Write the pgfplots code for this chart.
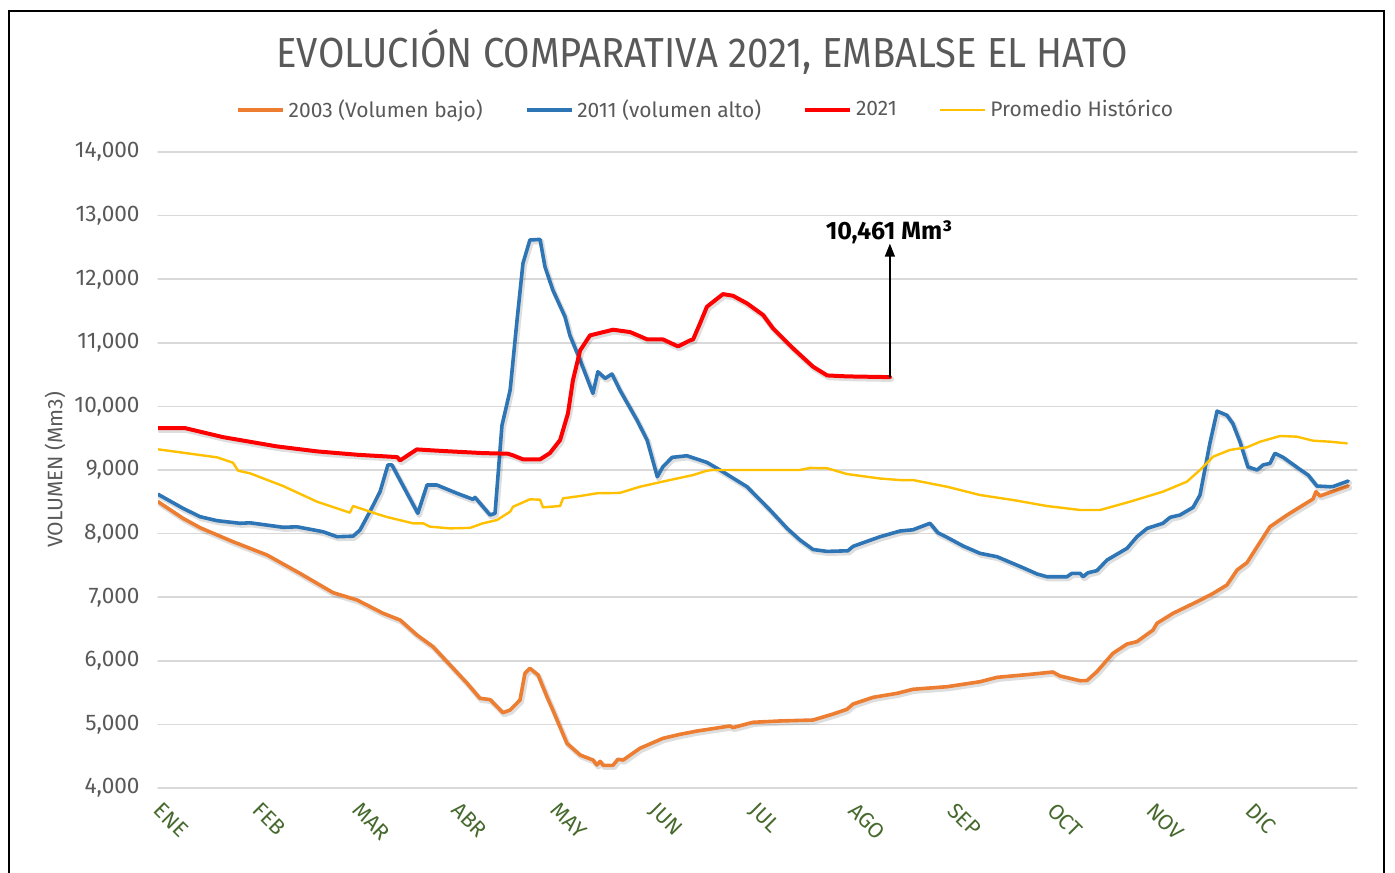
\documentclass[border=0pt]{standalone}
\usepackage{fontspec}
\setmainfont{Fira Sans}
\newfontfamily\titlefont[FakeStretch=0.91]{Fira Sans}
\usepackage{pgfplots}
\pgfplotsset{compat=1.18}
\usepackage{pgfplotstable}
\usetikzlibrary{arrows.meta}

\definecolor{c03}{RGB}{237,125,49}
\definecolor{c11}{RGB}{46,117,182}
\definecolor{c21}{RGB}{255,0,0}
\definecolor{cprom}{RGB}{255,192,0}
\definecolor{txtgray}{RGB}{89,89,89}
\definecolor{gridgray}{RGB}{217,217,217}
\definecolor{mongreen}{RGB}{70,105,45}

% day of year, volume (Mm3)
\pgfplotstableread{
x y
0 8502
7.6 8240
12.8 8093
22.8 7873
33.2 7663
43.2 7375
53.3 7071
60.6 6956
68.5 6747
73.7 6641
78.8 6406
83.7 6222
88.9 5934
94.1 5646
98.0 5410
101.1 5390
105.0 5184
107.2 5226
110.2 5384
111.7 5803
113.2 5882
115.7 5777
118.4 5436
120.2 5226
124.5 4702
128.5 4519
132.4 4440
133.6 4362
134.6 4420
135.5 4357
138.5 4357
140.0 4451
141.6 4440
146.7 4624
153.7 4781
158.9 4844
164.1 4896
174.1 4975
175.0 4950
181.1 5033
189.3 5054
199.4 5069
205.5 5163
209.7 5237
211.6 5321
217.7 5426
225.0 5489
229.8 5552
240.2 5593
250.2 5671
255.4 5740
265.4 5787
272.4 5824
274.6 5761
280.7 5687
282.8 5690
285.8 5829
290.7 6118
295.0 6264
298.0 6301
302.9 6484
304.1 6590
309.0 6747
316.3 6929
321.2 7060
325.4 7192
328.5 7428
331.5 7543
334.6 7794
338.5 8108
343.7 8292
348.6 8449
351.6 8544
352.5 8659
353.7 8591
362.3 8750
}\tblA

\pgfplotstableread{
x y
0 8618
7.6 8398
12.8 8266
18.0 8203
25.0 8162
28.0 8170
38.1 8099
42.3 8107
50.2 8030
54.5 7951
59.4 7960
61.5 8057
64.5 8345
67.6 8660
70.0 9080
71.2 9080
79.1 8319
81.9 8764
84.9 8764
91.0 8634
95.9 8539
96.5 8570
101.1 8292
102.6 8319
104.7 9700
106.5 10100
107.2 10258
109.3 11358
111.1 12250
113.2 12616
116.3 12626
117.8 12196
120.2 11830
123.9 11410
125.4 11116
128.5 10729
132.4 10205
133.9 10545
136.1 10441
138.2 10509
140.6 10258
145.8 9786
148.9 9470
152.0 8894
153.7 9051
156.5 9199
161.0 9224
167.1 9120
171.1 8999
179.3 8737
186.3 8371
191.5 8082
195.4 7900
199.4 7750
203.7 7720
210.0 7730
211.6 7800
219.8 7951
225.9 8041
229.8 8060
235.0 8162
237.4 8014
240.2 7941
245.1 7805
250.2 7690
255.4 7637
263.3 7464
267.6 7365
270.6 7322
276.7 7322
278.2 7375
280.7 7375
281.6 7322
283.1 7385
285.8 7417
288.9 7585
295.0 7769
298.0 7951
301.1 8082
305.9 8162
308.1 8256
311.1 8292
315.1 8413
317.2 8607
320.2 9419
322.4 9926
325.4 9860
327.2 9730
329.4 9440
331.8 9048
334.6 9000
336.4 9080
338.5 9104
340.0 9262
342.5 9199
347.6 9010
350.1 8921
352.8 8748
356.8 8737
357.7 8740
362.3 8827
}\tblB

\pgfplotstableread{
x y
0 9659
8.2 9659
19.8 9517
36.2 9371
48.4 9293
60.6 9240
72.8 9203
73.7 9151
78.8 9324
83.7 9308
88.9 9293
98.9 9266
106.5 9256
108.1 9230
111.1 9167
116.3 9167
119.3 9266
122.4 9470
124.8 9890
126.3 10409
128.5 10880
131.5 11116
138.5 11206
143.7 11169
148.9 11054
153.7 11054
158.3 10943
161.9 11037
162.9 11054
165.0 11305
167.1 11567
172.0 11766
175.0 11740
179.3 11620
184.2 11437
187.2 11227
193.3 10913
199.4 10624
203.7 10487
209.7 10472
221.9 10461
222.8 10461
}\tblC

\pgfplotstableread{
x y
0 9325
7.6 9272
18.0 9199
22.8 9115
24.4 8989
28.0 8948
38.1 8748
48.4 8502
58.4 8329
59.4 8434
66.7 8308
69.7 8261
77.6 8162
80.7 8162
82.8 8109
88.9 8082
95.0 8090
98.9 8162
103.2 8214
107.2 8345
108.1 8423
113.2 8539
116.3 8533
117.2 8413
122.4 8434
123.3 8555
128.5 8591
133.6 8634
140.6 8640
146.7 8737
154.9 8832
162.9 8921
167.1 8989
168.9 9000
189.3 9000
195.4 9000
198.5 9033
203.7 9028
209.7 8937
219.8 8866
225.9 8842
229.8 8842
240.2 8737
250.2 8607
260.3 8528
270.6 8434
280.7 8371
286.8 8371
295.9 8502
305.9 8659
313.2 8816
317.2 9000
321.2 9210
326.3 9315
331.5 9357
335.5 9445
341.6 9535
346.7 9524
351.6 9461
356.8 9445
361.9 9419
}\tblD

\begin{document}
\begin{tikzpicture}
\useasboundingbox (0pt,0pt) rectangle (697.5pt,-436pt);
\draw[line width=1pt, black] (4.5pt,-445pt) -- (4.5pt,-5.5pt) -- (692pt,-5.5pt) -- (692pt,-445pt);
\node[anchor=base, text=txtgray, font=\titlefont\fontsize{21}{25}\selectfont, inner sep=0pt] at (351pt,-34pt) {EVOLUCIÓN COMPARATIVA 2021, EMBALSE EL HATO};
\begin{axis}[
  at={(79pt,-394pt)}, anchor=south west,
  scale only axis, width=599.5pt, height=318pt,
  xmin=0, xmax=365, ymin=4000, ymax=14000,
  ytick={4000,5000,...,14000},
  scaled y ticks=false,
  xtick={5.4,35.6,65.9,96.1,126.3,156.5,186.8,217.0,247.2,277.5,307.7,337.9},
  xticklabels={ENE,FEB,MAR,ABR,MAY,JUN,JUL,AGO,SEP,OCT,NOV,DIC},
  ymajorgrids, grid style={gridgray, line width=0.75pt},
  axis line style={draw=none}, major tick style={draw=none},
  yticklabel style={/pgf/number format/fixed, /pgf/number format/1000 sep={,}, /pgf/number format/assume math mode=true, font=\fontsize{11.3}{13}\selectfont, text=txtgray, anchor=east, inner sep=0pt, xshift=-9pt},
  xticklabel style={font=\fontsize{10.8}{12}\selectfont, text=mongreen, rotate=-45, anchor=north west, inner sep=0pt, yshift=-9pt},
  ylabel={VOLUMEN (Mm3)},
  ylabel style={at={(axis description cs:-0.0859,0.5)}, anchor=center, font=\fontsize{10.5}{12}\selectfont, text=txtgray},
  legend style={at={(0.4575,1.066)}, anchor=center, draw=none, fill=none, font=\fontsize{10.5}{12}\selectfont, text=txtgray, /tikz/every even column/.append style={column sep=19pt}},
  legend columns=4,
  legend image code/.code={\draw[#1] (0pt,0pt) -- (22.5pt,0pt);},
  shadowline/.style={draw=black, opacity=0.13, line width=#1, xshift=0.7pt, yshift=-1pt, forget plot},
  line join=round, line cap=round,
]
\addplot[shadowline=2.6pt] table {\tblA};
\addplot[c03, line width=1.8pt] table {\tblA};
\addlegendentry{2003 (Volumen bajo)}
\addplot[shadowline=2.6pt] table {\tblB};
\addplot[c11, line width=1.8pt] table {\tblB};
\addlegendentry{2011 (volumen alto)}
\addplot[shadowline=2.8pt] table {\tblC};
\addplot[c21, line width=2pt] table {\tblC};
\addlegendentry{2021}
\addplot[cprom, line width=1.2pt] table {\tblD};
\addlegendentry{Promedio Histórico}
\draw[-{Triangle[length=6.5pt,width=5pt]}, line width=0.6pt, black] (axis cs:222.8,10461) -- (axis cs:222.8,12560);
\node[anchor=south, font=\fontsize{12.5}{14}\selectfont\bfseries, inner sep=0pt, text=black] at (axis cs:222.5,12545) {10,461 Mm³};
\end{axis}
\end{tikzpicture}
\end{document}
